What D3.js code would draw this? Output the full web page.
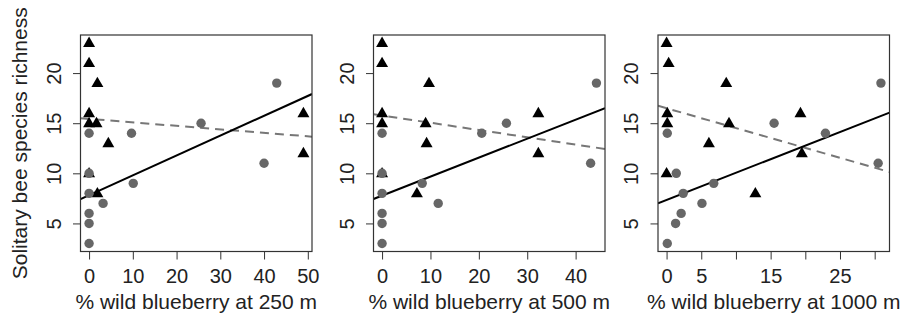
<!DOCTYPE html>
<html>
<head>
<meta charset="utf-8">
<script src="https://cdn.jsdelivr.net/npm/d3@7"></script>
<style>
  body { margin: 0; background: #fff; }
  svg text { font-family: "Liberation Sans", Arial, sans-serif; fill: #222; }
</style>
</head>
<body>
<div id="chart"></div>
<script>
// Solitary bee richness vs % wild blueberry at three radii
// black triangles = one site type, grey circles = the other

// richness values (shared by all three panels)
const triRichness  = [23, 21, 19, 16, 15, 15, 13, 10, 8, 16, 12];
const circRichness = [14, 10, 8, 6, 5, 3, 7, 14, 9, 15, 11, 19];

// % wild blueberry per radius, same site order as above
const triX250  = [0, 0, 1.9, 0, 0, 1.7, 4.4, 0, 1.9, 49, 49];
const circX250 = [0, 0, 0, 0, 0, 0, 3.2, 9.7, 10.1, 25.6, 40, 42.9];

const triX500  = [0, 0, 9.7, 0, 0, 9.0, 9.2, 0, 7.2, 32.3, 32.3];
const circX500 = [0, 0, 0, 0, 0, 0, 11.6, 20.6, 8.3, 25.7, 43.1, 44.3];

const triX1000  = [0, 0.3, 8.6, 0.1, 0.1, 9.0, 6.1, 0, 12.8, 19.3, 19.5];
const circX1000 = [0.1, 1.4, 2.4, 2.1, 1.3, 0.1, 5.1, 22.9, 6.8, 15.5, 30.5, 30.9];

// fitted lines: [intercept, slope]
const solidFits  = [[7.82, 0.198], [7.77, 0.1896], [7.34, 0.2714]];
const dashedFits = [[15.43, -0.0348], [15.77, -0.0725], [16.49, -0.1977]];

const xTitles = ["% wild blueberry at 250 m", "% wild blueberry at 500 m", "% wild blueberry at 1000 m"];
const xTicks = [[0, 10, 20, 30, 40, 50], [0, 10, 20, 30, 40], [0, 5, 10, 15, 20, 25, 30]];
const xTickLabels = [[0, 10, 20, 30, 40, 50], [0, 10, 20, 30, 40], [0, 5, 15, 25]];
const yTicks = [5, 10, 15, 20];
const yTitle = "Solitary bee species richness";

const panels = [
  {tri: triX250, circ: circX250},
  {tri: triX500, circ: circX500},
  {tri: triX1000, circ: circX1000}
];

const W = 908, H = 326;
const panelLeft = [80.5, 373.5, 658];
const panelW = 231.5;
const plotTop = 35, plotBottom = 251.5;

const svg = d3.select("#chart").append("svg")
    .attr("width", W)
    .attr("height", H);

svg.append("rect").attr("width", W).attr("height", H).attr("fill", "#fff");

// R style 4% padding on the data range
function padded(ext) {
    let d = (ext[1] - ext[0]) * 0.04;
    return [ext[0] - d, ext[1] + d];
}

const y = d3.scaleLinear()
    .domain(padded(d3.extent(triRichness.concat(circRichness))))
    .range([plotBottom, plotTop]);

const triangle = d3.symbol().type(d3.symbolTriangle).size(62);

panels.forEach((p, i) => {
    let x0 = panelLeft[i];
    let x = d3.scaleLinear()
        .domain(padded(d3.extent(p.tri.concat(p.circ))))
        .range([x0, x0 + panelW]);

    let g = svg.append("g");

    // clip so the fitted lines stop at the box
    g.append("clipPath").attr("id", "clip" + i)
        .append("rect")
        .attr("x", x0).attr("y", plotTop)
        .attr("width", panelW).attr("height", plotBottom - plotTop);

    // x axis
    let xa = g.append("g")
        .attr("transform", `translate(0,${plotBottom})`)
        .call(d3.axisBottom(x)
            .tickValues(xTicks[i])
            .tickSize(8)
            .tickPadding(9.3)
            .tickFormat(d => xTickLabels[i].includes(d) ? d : ""));
    xa.select(".domain").remove();
    xa.selectAll("line").attr("stroke", "#333").attr("stroke-width", 1);
    xa.selectAll("text").style("font-size", "20px").attr("fill", "#222");

    // y axis, labels rotated like R
    let ya = g.append("g")
        .attr("transform", `translate(${x0},0)`)
        .call(d3.axisLeft(y).tickValues(yTicks).tickSize(7.5));
    ya.select(".domain").remove();
    ya.selectAll("line").attr("stroke", "#333").attr("stroke-width", 1);
    ya.selectAll("text")
        .attr("x", null).attr("dy", null)
        .attr("text-anchor", "middle")
        .attr("transform", "translate(-20,0) rotate(-90)")
        .style("font-size", "20px")
        .attr("fill", "#222");

    // fitted lines
    let lines = g.append("g").attr("clip-path", `url(#clip${i})`);
    let dom = x.domain();
    let solid = solidFits[i], dashed = dashedFits[i];
    lines.append("line")
        .attr("x1", x(dom[0])).attr("y1", y(dashed[0] + dashed[1] * dom[0]))
        .attr("x2", x(dom[1])).attr("y2", y(dashed[0] + dashed[1] * dom[1]))
        .attr("stroke", "#777").attr("stroke-width", 2)
        .attr("stroke-dasharray", "9,6");
    lines.append("line")
        .attr("x1", x(dom[0])).attr("y1", y(solid[0] + solid[1] * dom[0]))
        .attr("x2", x(dom[1])).attr("y2", y(solid[0] + solid[1] * dom[1]))
        .attr("stroke", "#000").attr("stroke-width", 2);

    // black triangles
    g.selectAll(".tri")
        .data(p.tri.map((v, k) => ({x: v, y: triRichness[k]})))
        .enter().append("path")
        .attr("d", triangle)
        .attr("transform", d => `translate(${x(d.x)},${y(d.y) + 0.5})`)
        .attr("fill", "#000");

    // grey circles (drawn over the triangles)
    g.selectAll(".circ")
        .data(p.circ.map((v, k) => ({x: v, y: circRichness[k]})))
        .enter().append("circle")
        .attr("cx", d => x(d.x))
        .attr("cy", d => y(d.y))
        .attr("r", 4.7)
        .attr("fill", "#676767");

    // box
    g.append("rect")
        .attr("x", x0).attr("y", plotTop)
        .attr("width", panelW).attr("height", plotBottom - plotTop)
        .attr("fill", "none")
        .attr("stroke", "#333").attr("stroke-width", 1.2);

    // x title
    g.append("text")
        .attr("x", x0 + panelW / 2)
        .attr("y", 309)
        .attr("text-anchor", "middle")
        .style("font-size", "21px")
        .text(xTitles[i]);
});

svg.append("text")
    .attr("transform", `translate(27,${(plotTop + plotBottom) / 2}) rotate(-90)`)
    .attr("text-anchor", "middle")
    .style("font-size", "21px")
    .text(yTitle);
</script>
</body>
</html>
